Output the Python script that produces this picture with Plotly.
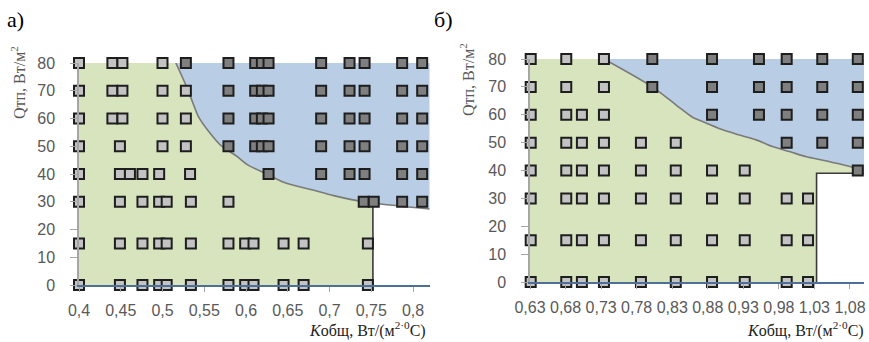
import plotly.graph_objects as go

W, H = 869, 342

# ---------------- shared ----------------
y_ticks = [0, 10, 20, 30, 40, 50, 60, 70, 80]

# ---------------- panel a ----------------
a_xticks = [0.40, 0.45, 0.50, 0.55, 0.60, 0.65, 0.70, 0.75, 0.80]
a_xticktext = ["0,4", "0,45", "0,5", "0,55", "0,6", "0,65", "0,7", "0,75", "0,8"]
a_xrange = [0.40, 0.82]

# points inside the green zone (light markers), keyed by Q value
a_light = {
    80: [0.40, 0.44, 0.452, 0.50],
    70: [0.40, 0.44, 0.452, 0.50, 0.528],
    60: [0.40, 0.44, 0.452, 0.50, 0.528],
    50: [0.40, 0.449, 0.50, 0.528],
    40: [0.40, 0.449, 0.461, 0.476, 0.496, 0.533],
    30: [0.40, 0.449, 0.476, 0.496, 0.505, 0.534, 0.579],
    15: [0.40, 0.449, 0.476, 0.496, 0.505, 0.534, 0.579, 0.599, 0.609, 0.645, 0.669, 0.746],
    0:  [0.40, 0.449, 0.476, 0.496, 0.505, 0.534, 0.579, 0.599, 0.609, 0.645, 0.669, 0.746],
}
# points inside the blue zone (dark markers)
a_dark = {
    80: [0.528, 0.579, 0.611, 0.619, 0.627, 0.69, 0.724, 0.742, 0.787, 0.811],
    70: [0.579, 0.611, 0.619, 0.627, 0.69, 0.724, 0.742, 0.787, 0.811],
    60: [0.579, 0.611, 0.619, 0.627, 0.69, 0.724, 0.742, 0.787, 0.811],
    50: [0.579, 0.611, 0.619, 0.627, 0.69, 0.724, 0.742, 0.787, 0.811],
    40: [0.627, 0.69, 0.724, 0.742, 0.787, 0.811],
    30: [0.741, 0.753, 0.787, 0.811],
}
# boundary curve between zones
a_curve_x = [0.516, 0.527, 0.535, 0.543, 0.557, 0.571, 0.589, 0.602, 0.626, 0.645, 0.679, 0.705, 0.74, 0.82]
a_curve_y = [80, 72.7, 66.7, 60.7, 54.7, 50, 46.4, 43.3, 39.8, 37, 34.3, 32.2, 30, 27.4]
a_limit_x = 0.752
a_limit_top = 29.6

# ---------------- panel b ----------------
b_xticks = [0.63, 0.68, 0.73, 0.78, 0.83, 0.88, 0.93, 0.98, 1.03, 1.08]
b_xticktext = ["0,63", "0,68", "0,73", "0,78", "0,83", "0,88", "0,93", "0,98", "1,03", "1,08"]
b_xrange = [0.63, 1.10]

b_light = {
    80: [0.631, 0.681, 0.734],
    70: [0.631, 0.681, 0.734],
    60: [0.631, 0.681, 0.703, 0.734],
    50: [0.631, 0.681, 0.703, 0.734, 0.786, 0.835],
    40: [0.631, 0.681, 0.703, 0.734, 0.786, 0.835, 0.886, 0.932],
    30: [0.631, 0.681, 0.703, 0.734, 0.786, 0.835, 0.886, 0.932, 0.991, 1.021],
    15: [0.631, 0.681, 0.703, 0.734, 0.786, 0.835, 0.886, 0.932, 0.991, 1.021],
    0:  [0.631, 0.681, 0.703, 0.734, 0.786, 0.835, 0.886, 0.932, 0.991, 1.021],
}
b_dark = {
    80: [0.802, 0.886, 0.952, 0.991, 1.041, 1.091],
    70: [0.802, 0.886, 0.952, 0.991, 1.041, 1.091],
    60: [0.886, 0.952, 0.991, 1.041, 1.091],
    50: [0.991, 1.041, 1.091],
    40: [1.091],
}
b_curve_x = [0.734, 0.802, 0.836, 0.858, 0.879, 0.902, 0.925, 0.949, 0.972, 0.996, 1.019, 1.042, 1.066, 1.10]
b_curve_y = [80, 70, 63.4, 59.2, 56.9, 54.5, 52.7, 50.9, 48.5, 46.7, 44.9, 43.7, 42.3, 40]
b_limit_x = 1.033
b_limit_top = 39

# ---------------- styles ----------------
GREEN = "#d7e4bd"
BLUE = "#b9cde5"
CURVE = "#7a7a7a"
LIMIT = "#3a3a3a"
LIGHT = "#c3c3c3"
DARK = "#7f7f7f"
EDGE = "#1e1e1e"
TICKCOL = "#595959"
AXGRAY = "#a6a6a6"
AXBLUE = "#4d6f99"


def flatten(d):
    xs, ys = [], []
    for q, row in d.items():
        for x in row:
            xs.append(x)
            ys.append(q)
    return xs, ys


fig = go.Figure()


def add_panel(xa, ya, xr, light, dark, cx, cy, green_x, green_y, limit_x, limit_y):
    # green zone
    fig.add_trace(go.Scatter(x=green_x, y=green_y, fill="toself", fillcolor=GREEN,
                             mode="lines", line=dict(width=0), hoverinfo="skip",
                             showlegend=False, xaxis=xa, yaxis=ya))
    # top edge for blue zone
    fig.add_trace(go.Scatter(x=[cx[0], xr[1]], y=[80, 80], mode="lines",
                             line=dict(width=0), hoverinfo="skip",
                             showlegend=False, xaxis=xa, yaxis=ya))
    # boundary curve with blue fill above
    fig.add_trace(go.Scatter(x=cx, y=cy, mode="lines", fill="tonexty", fillcolor=BLUE,
                             line=dict(color=CURVE, width=1.6, shape="spline", smoothing=0.8),
                             hoverinfo="skip", showlegend=False, xaxis=xa, yaxis=ya))
    # limit line
    fig.add_trace(go.Scatter(x=limit_x, y=limit_y, mode="lines",
                             line=dict(color=LIMIT, width=1.6), hoverinfo="skip",
                             showlegend=False, xaxis=xa, yaxis=ya))
    lx, ly = flatten(light)
    dx, dy = flatten(dark)
    fig.add_trace(go.Scatter(x=lx, y=ly, mode="markers", cliponaxis=False,
                             marker=dict(symbol="square", size=10, color=LIGHT,
                                         line=dict(color=EDGE, width=2)),
                             showlegend=False, xaxis=xa, yaxis=ya))
    fig.add_trace(go.Scatter(x=dx, y=dy, mode="markers", cliponaxis=False,
                             marker=dict(symbol="square", size=10, color=DARK,
                                         line=dict(color=EDGE, width=2)),
                             showlegend=False, xaxis=xa, yaxis=ya))


add_panel("x", "y", a_xrange, a_light, a_dark, a_curve_x, a_curve_y,
          [a_xrange[0], a_xrange[0], a_limit_x, a_limit_x], [0, 80, 80, 0],
          [a_limit_x, a_limit_x], [0, a_limit_top])

add_panel("x2", "y2", b_xrange, b_light, b_dark, b_curve_x, b_curve_y,
          [b_xrange[0], b_xrange[0], b_xrange[1], b_xrange[1], b_limit_x, b_limit_x],
          [0, 80, 80, b_limit_top, b_limit_top, 0],
          [b_limit_x, b_limit_x, b_xrange[1]], [0, b_limit_top, b_limit_top])

tickfont = dict(family="Liberation Sans, Arial, sans-serif", size=16, color=TICKCOL)


def xaxis(dom, rng, tv, tt, anchor):
    return dict(domain=dom, range=rng, tickvals=tv, ticktext=tt, showgrid=False,
                zeroline=False, showline=True, linecolor=AXBLUE, linewidth=1.5,
                ticks="outside", ticklen=5, tickcolor=AXGRAY, tickwidth=1,
                tickfont=tickfont, ticklabelstandoff=5, anchor=anchor,
                automargin=False, fixedrange=True)


def yaxis(dom, anchor):
    return dict(domain=dom, range=[0, 80], tickvals=y_ticks, showgrid=False,
                zeroline=False, showline=True, linecolor=AXGRAY, linewidth=1.5,
                ticks="outside", ticklen=7, tickcolor=AXGRAY, tickwidth=1,
                tickfont=tickfont, ticklabelstandoff=12, anchor=anchor,
                automargin=False, fixedrange=True)


fig.update_layout(
    width=W, height=H, margin=dict(l=0, r=0, t=0, b=0, autoexpand=False),
    paper_bgcolor="white", plot_bgcolor="white",
    xaxis=xaxis([79 / W, 429.7 / W], a_xrange, a_xticks, a_xticktext, "y"),
    yaxis=yaxis([1 - 285 / H, 1 - 63 / H], "x"),
    xaxis2=xaxis([530 / W, 864.2 / W], b_xrange, b_xticks, b_xticktext, "y2"),
    yaxis2=yaxis([1 - 282 / H, 1 - 59 / H], "x2"),
)

serif = "Liberation Serif, Times New Roman, serif"
ann = [
    dict(text="а)", x=5 / W, y=1 - 19 / H, xanchor="left", yanchor="middle",
         font=dict(family=serif, size=22, color="black")),
    dict(text="б)", x=432 / W, y=1 - 19 / H, xanchor="left", yanchor="middle",
         font=dict(family=serif, size=22, color="black")),
    dict(text="Qтп, Вт/м<sup>2</sup>", x=18 / W, y=1 - 83 / H, textangle=-90,
         xanchor="center", yanchor="middle",
         font=dict(family=serif, size=16, color="#595959")),
    dict(text="Qтп, Вт/м<sup>2</sup>", x=467 / W, y=1 - 80 / H, textangle=-90,
         xanchor="center", yanchor="middle",
         font=dict(family=serif, size=16, color="#595959")),
    dict(text="<i>K</i>общ, Вт/(м<sup>2·0</sup>С)", x=428 / W, y=1 - 329 / H,
         xanchor="right", yanchor="middle",
         font=dict(family=serif, size=16, color="#222222")),
    dict(text="<i>K</i>общ, Вт/(м<sup>2·0</sup>С)", x=866 / W, y=1 - 329 / H,
         xanchor="right", yanchor="middle",
         font=dict(family=serif, size=16, color="#222222")),
]
for a in ann:
    a.update(xref="paper", yref="paper", showarrow=False)
fig.update_layout(annotations=ann)

fig.write_html("out.html")
